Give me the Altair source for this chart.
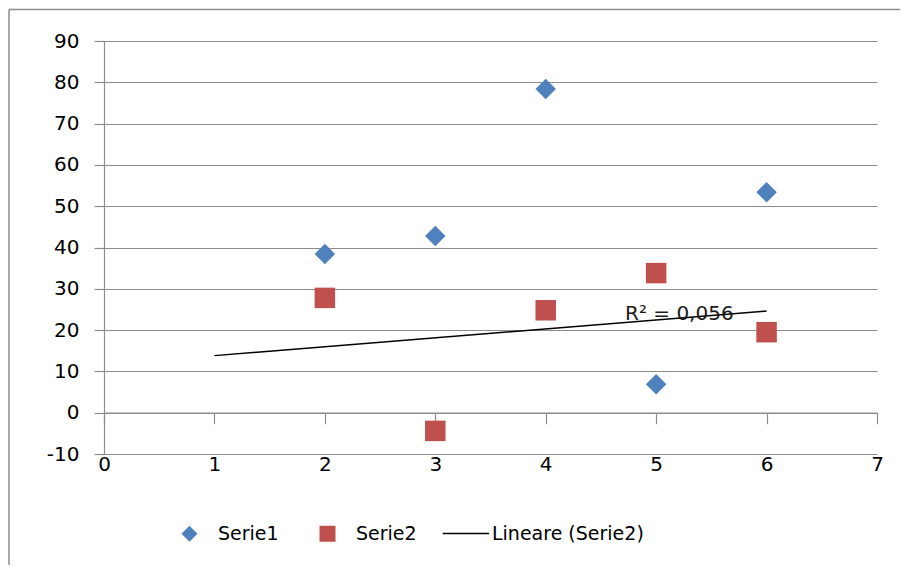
import altair as alt
import pandas as pd

# ---- data ----
x_vals = [2, 3, 4, 5, 6]
serie1 = [38.4, 42.8, 78.4, 6.9, 53.4]
serie2 = [27.8, -4.4, 24.8, 33.8, 19.5]
point_names = ["Serie1", "Serie2"]
point_colors = ["#4F81BD", "#C0504D"]
point_shapes = ["diamond", "square"]
trend_names = ["Lineare (Serie2)"]
trend_colors = ["#000000"]
x_ticks = [0, 1, 2, 3, 4, 5, 6, 7]
y_ticks = [-10, 0, 10, 20, 30, 40, 50, 60, 70, 80, 90]
trend_extent = [1, 6]
r2_text = ["R² = 0,056"]
r2_x = [5.21]
r2_y = [23.9]

W, H = 773, 413
GRID = "#8c8c8c"
FONT = "DejaVu Sans"

points = pd.DataFrame({
    "series": ["Serie1"] * len(x_vals) + ["Serie2"] * len(x_vals),
    "x": x_vals + x_vals,
    "y": serie1 + serie2,
})
s2 = pd.DataFrame({"x": x_vals, "y": serie2})
lab = pd.DataFrame({"x": r2_x, "y": r2_y, "text": r2_text})

xs = alt.Scale(domain=[0, 7], nice=False)
ys = alt.Scale(domain=[-10, 90], nice=False)
x_axis = alt.Axis(values=x_ticks, grid=False, offset=-H / 10, tickSize=11,
                  labelPadding=H / 10 - 11, labelFlush=False, domain=True,
                  title=None, labelExpr="'' + datum.value")
y_axis = alt.Axis(values=y_ticks, grid=True, tickSize=10, labelPadding=15,
                  labelFlush=False, domain=True, title=None,
                  labelExpr="'' + datum.value")

leg_common = dict(orient="none", legendY=483, direction="horizontal",
                  title=None, symbolSize=256, labelOffset=19, padding=0,
                  labelFont=FONT, labelFontSize=19, labelColor="#000000")
leg_pts = alt.Legend(legendX=76, columnPadding=37, **leg_common)
leg_line = alt.Legend(legendX=350, symbolType="M-2.6,0H3.2",
                      symbolStrokeWidth=1.5, **leg_common)

fill_s = alt.Scale(domain=point_names, range=point_colors)
shape_s = alt.Scale(domain=point_names, range=point_shapes)
stroke_s = alt.Scale(domain=trend_names, range=trend_colors)

X = alt.X("x:Q", scale=xs, axis=x_axis)
Y = alt.Y("y:Q", scale=ys, axis=y_axis)

pts = alt.Chart(points).mark_point(filled=True, opacity=1, size=420).encode(
    x=X, y=Y,
    fill=alt.Fill("series:N", scale=fill_s, legend=leg_pts),
    shape=alt.Shape("series:N", scale=shape_s, legend=leg_pts),
)

trend = alt.Chart(s2).transform_regression(
    "x", "y", extent=trend_extent
).transform_calculate(trend="'Lineare (Serie2)'").mark_line(strokeWidth=1.5).encode(
    x=X, y=Y,
    stroke=alt.Stroke("trend:N", scale=stroke_s, legend=leg_line),
)

txt = alt.Chart(lab).mark_text(font=FONT, fontSize=20, color="#1a1a1a").encode(
    x=X, y=Y, text="text:N"
)

one = pd.DataFrame({"a": [0]})
frame_left = alt.Chart(one).mark_rule(color=GRID, strokeWidth=1.5).encode(
    x=alt.value(-95), y=alt.value(-31.5), y2=alt.value(524)
)
frame_top = alt.Chart(one).mark_rule(color=GRID, strokeWidth=1.5).encode(
    x=alt.value(-95), x2=alt.value(796), y=alt.value(-31.5)
)

chart = alt.layer(pts, trend, txt, frame_left, frame_top).properties(
    width=W, height=H, padding=0
).configure_view(stroke=None).configure_axis(
    labelFont=FONT, labelFontSize=20, labelColor="#000000",
    domainColor=GRID, tickColor=GRID, gridColor=GRID,
    domainWidth=1.2, tickWidth=1.2, gridWidth=1.2,
)

chart.save("out.html", embed_options={"renderer": "svg", "actions": False})
